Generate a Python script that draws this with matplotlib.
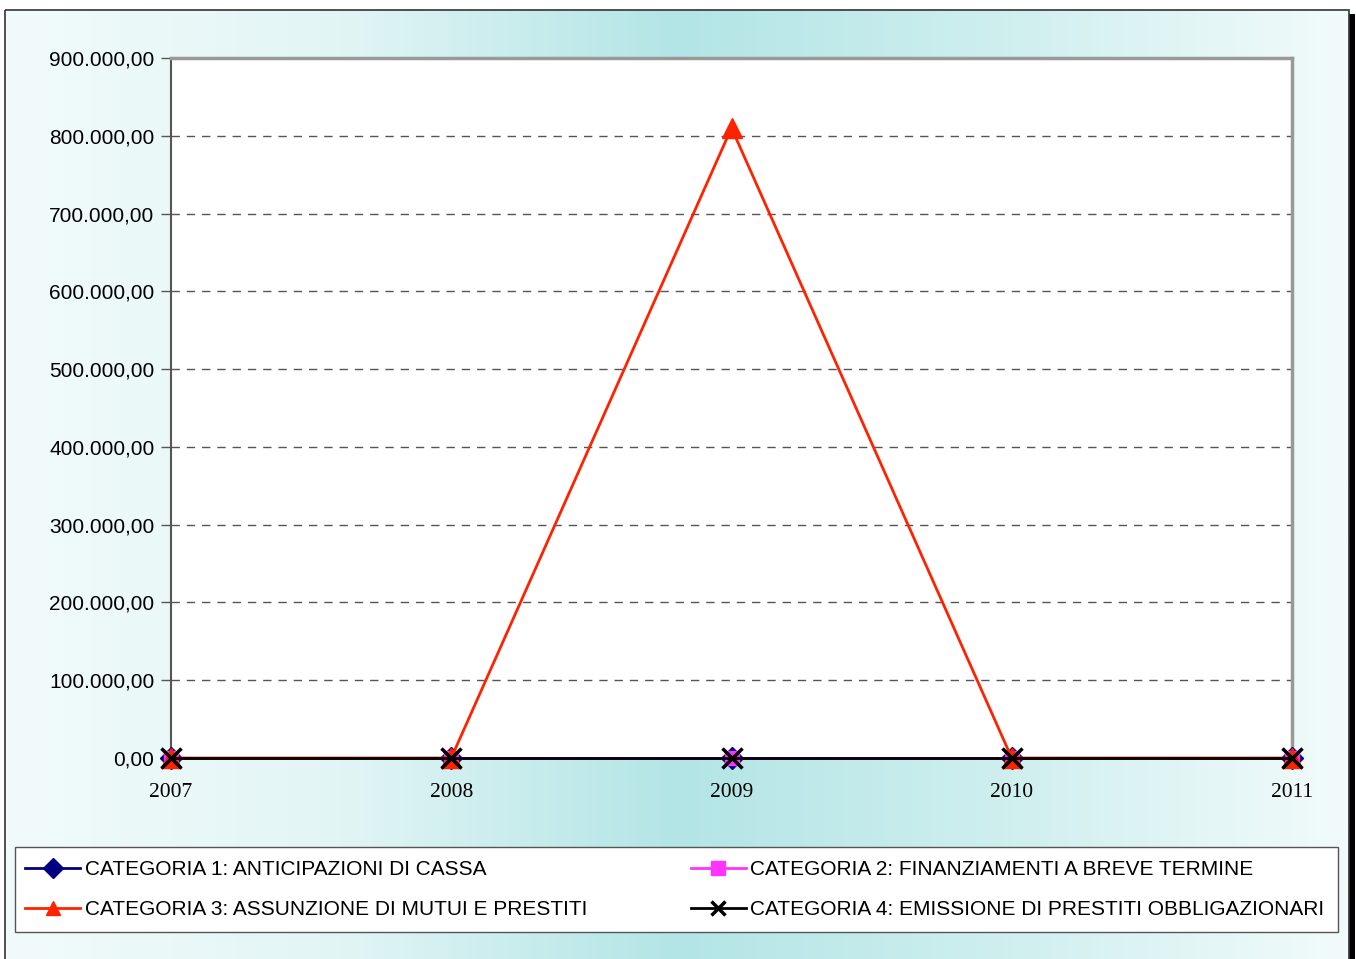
#!/usr/bin/env python3
"""Line chart of the four CATEGORIA series, 2007-2011."""

import numpy as np
import matplotlib
matplotlib.use("Agg")
import matplotlib.pyplot as plt
from matplotlib.colors import LinearSegmentedColormap
from matplotlib.patches import Rectangle
from matplotlib.ticker import FuncFormatter

# Data
years = ["2007", "2008", "2009", "2010", "2011"]
cat1 = [0, 0, 0, 0, 0]
cat2 = [0, 0, 0, 0, 0]
cat3 = [0, 0, 810000, 0, 0]
cat4 = [0, 0, 0, 0, 0]
labels = [
    "CATEGORIA 1: ANTICIPAZIONI DI CASSA",
    "CATEGORIA 2: FINANZIAMENTI A BREVE TERMINE",
    "CATEGORIA 3: ASSUNZIONE DI MUTUI E PRESTITI",
    "CATEGORIA 4: EMISSIONE DI PRESTITI OBBLIGAZIONARI",
]

W, H = 1356, 959
fig = plt.figure(figsize=(W / 100, H / 100), dpi=100)

# Background frame with horizontal gradient
bg = fig.add_axes([0, 0, 1, 1], zorder=-10)
bg.set_xlim(0, W)
bg.set_ylim(H, 0)
bg.axis("off")
cmap = LinearSegmentedColormap.from_list(
    "bg", ["#f2fbfb", "#e2f5f5", "#b3e5e6", "#d0efef", "#f2fbfb"])
grad = np.linspace(0, 1, 512).reshape(1, -1)
bg.imshow(grad, cmap=cmap, extent=[5, 1349, 962, 10], aspect="auto")
bg.add_patch(Rectangle((1349, 14), 6, 950, color="black", lw=0))
bg.add_patch(Rectangle((5, 10), 1344, 952, fill=False, ec="#333333", lw=1.2))
# legend box
bg.add_patch(Rectangle((15, 847), 1323, 85, fc="white", ec="#555555", lw=1))

# Plot area
ax = fig.add_axes([171 / W, 1 - 758 / H, (1292 - 171) / W, (758 - 58) / H])
x = np.arange(len(years))
l1, = ax.plot(x, cat1, color="#000080", marker="D", ms=11, lw=2, label=labels[0], clip_on=False, zorder=3)
l2, = ax.plot(x, cat2, color="#ff33ff", marker="s", ms=10, lw=2, label=labels[1], clip_on=False, zorder=4)
l3, = ax.plot(x, cat3, color="#ff2200", marker="^", ms=15, lw=2, label=labels[2], clip_on=False, zorder=5)
l4, = ax.plot(x, cat4, color="black", marker="x", ms=14, mew=2.5, lw=2, label=labels[3], clip_on=False, zorder=6)

ax.set_xlim(0, len(years) - 1)
ax.set_ylim(0, 900000)
ax.set_yticks(np.arange(0, 900001, 100000))
ax.yaxis.set_major_formatter(FuncFormatter(
    lambda v, p: f"{v:,.2f}".replace(",", "X").replace(".", ",").replace("X", ".")))
ax.set_xticks(x)
ax.set_xticklabels(years, fontfamily="Liberation Serif", fontsize=15.5)
ax.tick_params(axis="y", length=7, width=1, color="#555555", pad=5,
               labelsize=15, labelfontfamily="Liberation Sans")
ax.tick_params(axis="x", length=0, pad=18)
ax.grid(axis="y", color="#555555", ls=(0, (6, 5)), lw=1)
ax.set_axisbelow(True)
ax.spines["left"].set_color("#555555")
ax.spines["left"].set_linewidth(1.5)
for s in ("top", "right"):
    ax.spines[s].set_color("#999999")
    ax.spines[s].set_linewidth(2.5)
ax.spines["bottom"].set_color("#555555")

# legend, filled row by row (1 2 / 3 4)
leg = fig.legend([l1, l3, l2, l4], [labels[0], labels[2], labels[1], labels[3]],
                 loc="upper left", bbox_to_anchor=(25 / W, 1 - 860 / H), ncol=2,
                 frameon=False, handlelength=2.64, handletextpad=0.24,
                 columnspacing=4.95, labelspacing=1.0, borderpad=0, borderaxespad=0,
                 prop={"family": "Liberation Sans", "size": 15})
for h in leg.legend_handles:
    h.set_markersize(10)

fig.savefig("out.png", dpi=100)
